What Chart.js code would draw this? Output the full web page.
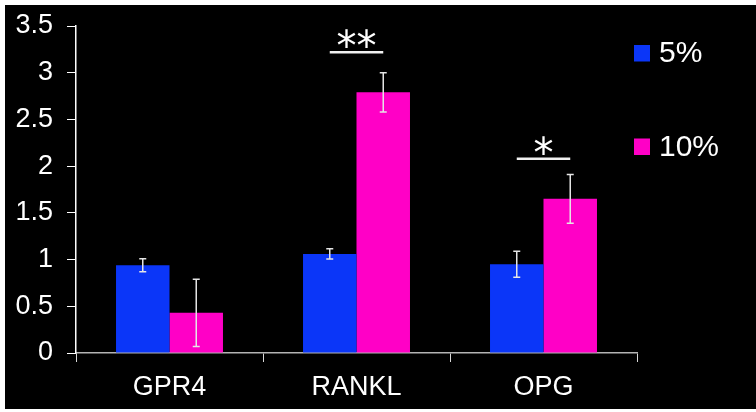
<!DOCTYPE html>
<html>
<head>
<meta charset="utf-8">
<script src="https://cdn.jsdelivr.net/npm/chart.js@4/dist/chart.umd.min.js"></script>
<style>
  html, body { margin: 0; padding: 0; background: #ffffff; width: 756px; height: 412px; overflow: hidden; }
  #wrap { position: absolute; left: 5px; top: 5px; width: 751px; height: 404px; background: #000000; }
  canvas { display: block; }
</style>
</head>
<body>
<div id="wrap"><canvas id="c" width="751" height="404"></canvas></div>
<script>
// Relative expression per gene at two concentrations
const categories = ['GPR4', 'RANKL', 'OPG'];
const seriesNames = ['5%', '10%'];
const values5 = [0.94, 1.06, 0.95];
const values10 = [0.43, 2.79, 1.65];
const err5 = [0.07, 0.055, 0.14];
const err10 = [0.36, 0.21, 0.26];
// Significance brackets: height of the bar line and marker text
const sigLevel = [null, 3.22, 2.08];
const sigMarks = ['', '**', '*'];
const yTicks = [0, 0.5, 1, 1.5, 2, 2.5, 3, 3.5];

const colors = ['#0b36f8', '#ff00c6'];
const FONT = '"Liberation Sans", Arial, sans-serif';

const errorBars = {
  id: 'errorBars',
  afterDatasetsDraw(chart) {
    const ctx = chart.ctx;
    const y = chart.scales.y;
    const errs = [err5, err10];
    ctx.save();
    ctx.strokeStyle = '#e6e6e6';
    ctx.lineWidth = 1.5;
    chart.data.datasets.forEach((ds, d) => {
      const meta = chart.getDatasetMeta(d);
      meta.data.forEach((bar, i) => {
        const v = ds.data[i], e = errs[d][i];
        const yt = y.getPixelForValue(v + e);
        const yb = y.getPixelForValue(v - e);
        ctx.beginPath();
        ctx.moveTo(bar.x, yt); ctx.lineTo(bar.x, yb);
        ctx.moveTo(bar.x - 3.5, yt); ctx.lineTo(bar.x + 3.5, yt);
        ctx.moveTo(bar.x - 3.5, yb); ctx.lineTo(bar.x + 3.5, yb);
        ctx.stroke();
      });
    });
    ctx.restore();
  }
};

const significance = {
  id: 'significance',
  afterDatasetsDraw(chart) {
    const ctx = chart.ctx;
    const y = chart.scales.y;
    const m0 = chart.getDatasetMeta(0), m1 = chart.getDatasetMeta(1);
    ctx.save();
    sigLevel.forEach((lvl, i) => {
      if (lvl === null) return;
      const x1 = m0.data[i].x, x2 = m1.data[i].x;
      const yy = y.getPixelForValue(lvl);
      ctx.strokeStyle = '#f0f0f0';
      ctx.lineWidth = 2.5;
      ctx.beginPath();
      ctx.moveTo(x1, yy); ctx.lineTo(x2, yy);
      ctx.stroke();
      ctx.fillStyle = '#ffffff';
      ctx.font = '40px "DejaVu Sans", sans-serif';
      ctx.textAlign = 'center';
      ctx.textBaseline = 'alphabetic';
      ctx.fillText(sigMarks[i], (x1 + x2) / 2, yy + 8);
    });
    ctx.restore();
  }
};

const sideLegend = {
  id: 'sideLegend',
  afterDraw(chart) {
    const ctx = chart.ctx;
    const rows = [48, 141.5];
    ctx.save();
    ctx.font = '30px ' + FONT;
    ctx.textAlign = 'left';
    ctx.textBaseline = 'middle';
    seriesNames.forEach((name, k) => {
      const cy = rows[k];
      ctx.fillStyle = colors[k];
      ctx.fillRect(629, cy - 8, 16, 16.5);
      ctx.fillStyle = '#ffffff';
      ctx.fillText(name, 654, cy + 1);
    });
    ctx.restore();
  }
};

new Chart(document.getElementById('c'), {
  type: 'bar',
  data: {
    labels: categories,
    datasets: [
      { label: seriesNames[0], data: values5, backgroundColor: colors[0], borderWidth: 0 },
      { label: seriesNames[1], data: values10, backgroundColor: colors[1], borderWidth: 0 }
    ]
  },
  options: {
    responsive: false,
    animation: false,
    devicePixelRatio: 1,
    layout: { padding: { top: 21, right: 119, bottom: 0, left: 0 } },
    datasets: { bar: { barPercentage: 1, categoryPercentage: 0.572 } },
    plugins: { legend: { display: false }, tooltip: { enabled: false } },
    scales: {
      x: {
        afterFit(s) { s.height = 56; s.paddingLeft = 0; s.paddingRight = 0; },
        grid: { display: true, drawOnChartArea: false, drawTicks: true, tickLength: 9, tickColor: '#d8d8d8', offset: true },
        border: { display: true, color: '#b4b4b4', width: 1.5 },
        ticks: { color: '#ffffff', font: { family: FONT, size: 27 }, padding: 9 }
      },
      y: {
        min: 0, max: 3.5,
        afterFit(s) { s.width = 71; s.paddingTop = 0; s.paddingBottom = 0; },
        afterBuildTicks(s) { s.ticks = yTicks.map(v => ({ value: v })); },
        grid: { display: true, drawOnChartArea: false, drawTicks: true, tickLength: 9, tickColor: '#ffffff' },
        border: { display: true, color: '#ffffff', width: 1.5 },
        ticks: { color: '#ffffff', font: { family: FONT, size: 27 }, padding: 14, callback: v => String(v) }
      }
    }
  },
  plugins: [errorBars, significance, sideLegend]
});
</script>
</body>
</html>
